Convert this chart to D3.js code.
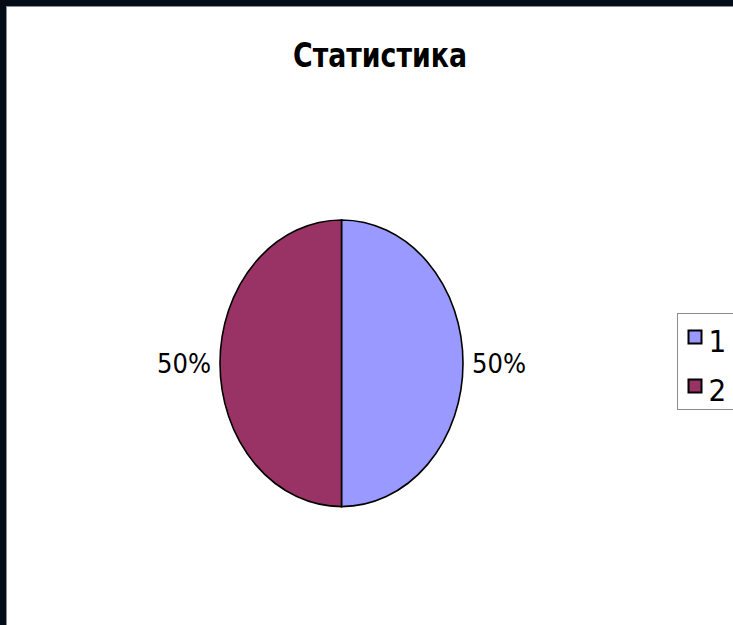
<!DOCTYPE html>
<html>
<head>
<meta charset="utf-8">
<script src="https://cdn.jsdelivr.net/npm/d3@7"></script>
<style>
  html, body { margin: 0; padding: 0; background: #040c18; }
  svg { display: block; }
</style>
</head>
<body>
<div id="chart"></div>
<script>
// chart data
const categories = ["1", "2"];
const values = [50, 50];
const sliceColors = ["#9999ff", "#993366"];
const chartTitle = "Статистика";

const width = 733, height = 625;
const svg = d3.select("#chart").append("svg").attr("width", width).attr("height", height);

// dark frame, then the white chart area (runs off the right and bottom edges)
svg.append("rect").attr("width", width).attr("height", height).attr("fill", "#040c18");
svg.append("rect").attr("x", 6.5).attr("y", 6.5).attr("width", width + 10).attr("height", height + 10)
    .attr("fill", "#ffffff").attr("stroke", "#8a8f96").attr("stroke-width", 1);

svg.append("text").attr("x", 380).attr("y", 67).attr("text-anchor", "middle")
    .style("font-family", "'DejaVu Sans Condensed', 'DejaVu Sans', sans-serif").style("font-weight", "bold").style("font-size", "33px")
    .attr("textLength", 174).attr("lengthAdjust", "spacingAndGlyphs")
    .text(chartTitle);

// elliptical pie: draw a unit-radius pie and stretch it
const cx = 341.5, cy = 363.3, rx = 121.5, ry = 143.3;
const total = d3.sum(values);
const pie = d3.pie().sort(null)(values);
const arc = d3.arc().innerRadius(0).outerRadius(100);
const color = d3.scaleOrdinal().domain(categories).range(sliceColors);

const pieG = svg.append("g").attr("transform", `translate(${cx},${cy}) scale(${rx / 100},${ry / 100})`);
pieG.selectAll("path").data(pie).join("path")
    .attr("d", arc)
    .attr("fill", (d, i) => color(categories[i]))
    .attr("stroke", "#000").attr("stroke-width", 1.6).attr("vector-effect", "non-scaling-stroke");

// percentage labels outside the slices
const fmt = d3.format(".0%");
svg.append("g").selectAll("text").data(pie).join("text")
    .attr("x", d => {
        const a = (d.startAngle + d.endAngle) / 2;
        return cx + Math.sin(a) * (rx + 9);
    })
    .attr("y", d => {
        const a = (d.startAngle + d.endAngle) / 2;
        return cy - Math.cos(a) * (ry + 9) + 10;
    })
    .attr("text-anchor", d => ((d.startAngle + d.endAngle) / 2) < Math.PI ? "start" : "end")
    .style("font-family", "'DejaVu Sans Condensed', 'DejaVu Sans', sans-serif").style("font-size", "27px")
    .text(d => fmt(d.value / total));

// legend
const legend = svg.append("g").attr("transform", "translate(677.5,313.5)");
legend.append("rect").attr("width", 80).attr("height", 96)
    .attr("fill", "#fff").attr("stroke", "#8c8c8c").attr("stroke-width", 1);
const item = legend.selectAll("g.item").data(categories).join("g").attr("class", "item")
    .attr("transform", (d, i) => `translate(0,${17 + i * 49})`);
item.append("rect").attr("x", 11).attr("y", 0).attr("width", 13).attr("height", 13)
    .attr("fill", d => color(d)).attr("stroke", "#000").attr("stroke-width", 2);
item.append("text").attr("x", 31).attr("y", 21)
    .style("font-family", "'DejaVu Sans Condensed', 'DejaVu Sans', sans-serif").style("font-size", "31px")
    .text(d => d);
</script>
</body>
</html>
